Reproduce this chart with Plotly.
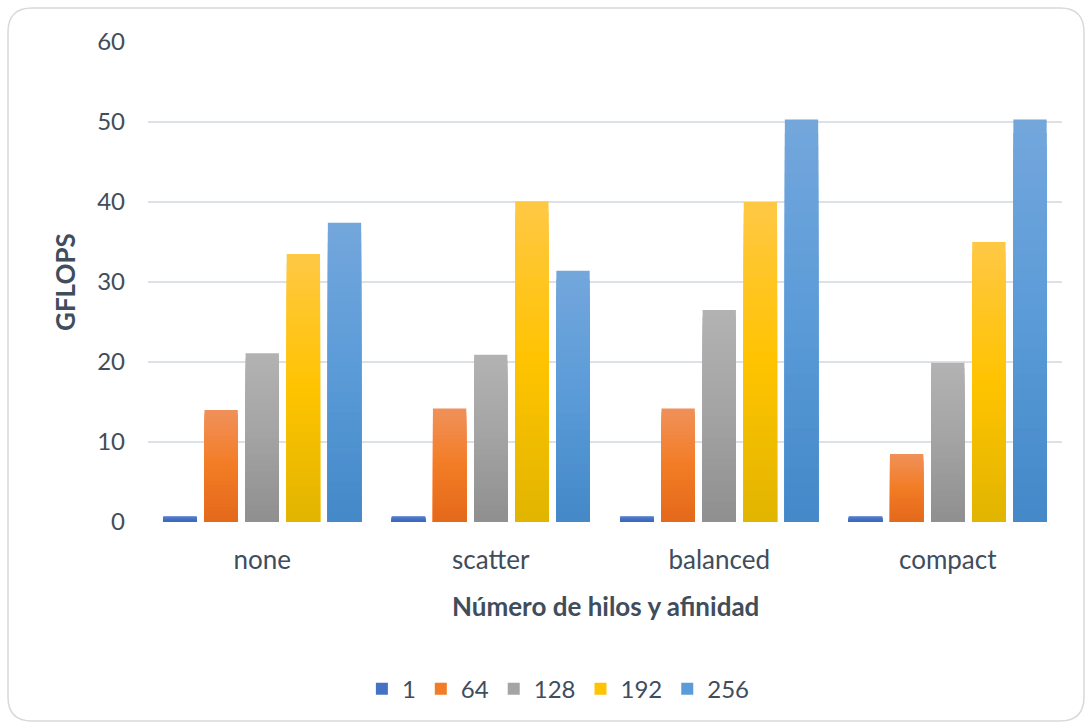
import plotly.graph_objects as go

# Affinity modes (x categories) and thread counts (series)
affinity = ["none", "scatter", "balanced", "compact"]
threads = ["1", "64", "128", "192", "256"]

gflops_1 = [0.7, 0.7, 0.7, 0.7]
gflops_64 = [14.0, 14.2, 14.2, 8.5]
gflops_128 = [21.1, 20.9, 26.5, 19.9]
gflops_192 = [33.5, 40.1, 40.0, 35.0]
gflops_256 = [37.4, 31.4, 50.3, 50.3]

series_values = [gflops_1, gflops_64, gflops_128, gflops_192, gflops_256]

y_ticks = [0, 10, 20, 30, 40, 50, 60]

# Vertical gradient stops per series: (bottom, middle, top)
gradients = [
    ("#3D67B8", "#4472C4", "#5A81CE"),
    ("#E3691B", "#F37C25", "#F0915A"),
    ("#8F8F8F", "#A3A3A3", "#B3B3B3"),
    ("#E1B500", "#FFC300", "#FFC845"),
    ("#4488C8", "#5A9BD8", "#74A7DC"),
]

TEXT = "#404D5C"
GRID = "#DCE0E7"
FONT = "Lato, Open Sans, sans-serif"
N_SEG = 30


def hex_rgb(h):
    h = h.lstrip("#")
    return tuple(int(h[i:i + 2], 16) for i in (0, 2, 4))


def mix(c1, c2, t):
    a, b = hex_rgb(c1), hex_rgb(c2)
    return "rgb({},{},{})".format(*[round(a[i] + (b[i] - a[i]) * t) for i in range(3)])


def grad_color(stops, t):
    bottom, middle, top = stops
    if t < 0.5:
        return mix(bottom, middle, t / 0.5)
    return mix(middle, top, (t - 0.5) / 0.5)


fig = go.Figure()

# Each bar is built from overlapping bars of decreasing height that all
# start at zero, drawn tallest first, so every bar gets a seamless
# bottom-to-top colour gradient.
for name, vals, stops in zip(threads, series_values, gradients):
    for k in range(N_SEG - 1, -1, -1):
        frac = (k + 1) / N_SEG
        t = (k + 0.5) / N_SEG
        legend_slice = k == N_SEG // 2
        fig.add_trace(go.Bar(
            x=affinity,
            y=[v * frac for v in vals],
            name=name,
            offsetgroup=name,
            legendgroup=name,
            showlegend=legend_slice,
            marker=dict(color=grad_color(stops, t), line=dict(width=0)),
            customdata=vals,
            hovertemplate="%{x}<br>" + name + " hilos: %{customdata} GFLOPS<extra></extra>",
            hoverinfo=None if k == N_SEG - 1 else "skip",
        ))

# Card outline with rounded corners (pixel geometry converted to paper units)
W, H = 1091, 727
L, R, T, B = 148, 29, 42, 205
pw, ph = W - L - R, H - T - B


def px(xp):
    return (xp - L) / pw


def py(yp):
    return (H - B - yp) / ph


x0, x1, y0, y1, rad = 8, 1084, 8, 721, 24
card_path = (
    f"M{px(x0 + rad)},{py(y0)} L{px(x1 - rad)},{py(y0)} "
    f"Q{px(x1)},{py(y0)} {px(x1)},{py(y0 + rad)} "
    f"L{px(x1)},{py(y1 - rad)} Q{px(x1)},{py(y1)} {px(x1 - rad)},{py(y1)} "
    f"L{px(x0 + rad)},{py(y1)} Q{px(x0)},{py(y1)} {px(x0)},{py(y1 - rad)} "
    f"L{px(x0)},{py(y0 + rad)} Q{px(x0)},{py(y0)} {px(x0 + rad)},{py(y0)} Z"
)

fig.update_layout(
    width=W,
    height=H,
    margin=dict(l=L, r=R, t=T, b=B),
    paper_bgcolor="white",
    plot_bgcolor="white",
    barmode="group",
    bargap=0.1,
    bargroupgap=0.19,
    font=dict(family=FONT, color=TEXT, size=24),
    showlegend=True,
    legend=dict(
        orientation="h",
        x=0.449,
        xanchor="center",
        y=-0.348,
        yanchor="middle",
        font=dict(size=24, color=TEXT),
        traceorder="normal",
        itemclick="toggle",
    ),
    shapes=[dict(
        type="path",
        path=card_path,
        xref="paper",
        yref="paper",
        line=dict(color="#D9D9D9", width=1.5),
        fillcolor="rgba(0,0,0,0)",
        layer="below",
    )],
    annotations=[
        dict(
            text="<b>Número de hilos y afinidad</b>",
            x=0.5, y=0, xref="paper", yref="paper",
            xanchor="center", yanchor="middle",
            yshift=-84, showarrow=False,
            font=dict(size=26, color=TEXT, family=FONT),
        ),
        dict(
            text="<b>GFLOPS</b>",
            x=0, y=0.5, xref="paper", yref="paper",
            xanchor="center", yanchor="middle",
            xshift=-83, textangle=-90, showarrow=False,
            font=dict(size=26, color=TEXT, family=FONT),
        ),
    ],
)

fig.update_xaxes(
    showgrid=False,
    showline=False,
    zeroline=False,
    ticks="",
    ticklabelstandoff=20,
    tickfont=dict(size=26, color=TEXT),
)
fig.update_yaxes(
    range=[0, 60],
    tickvals=y_ticks,
    showgrid=True,
    gridcolor=GRID,
    gridwidth=2,
    zeroline=False,
    showline=False,
    ticks="",
    ticklabelstandoff=22,
    tickfont=dict(size=24, color=TEXT),
)

fig.write_html("out.html")
